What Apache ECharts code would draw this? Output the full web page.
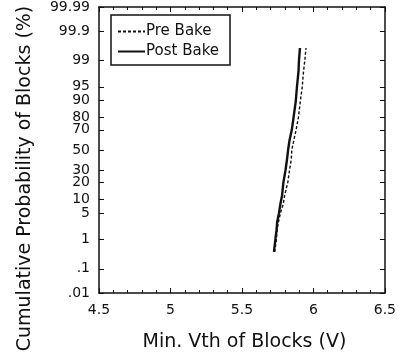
<!DOCTYPE html>
<html>
<head>
<meta charset="utf-8">
<script src="https://cdn.jsdelivr.net/npm/echarts@6/dist/echarts.min.js"></script>
<style>
  html, body { margin: 0; padding: 0; background: #fff; }
  #chart { width: 399px; height: 361px; }
</style>
</head>
<body>
<div id="chart"></div>
<script>
// Cumulative probability (%) of each plotted point
const probabilities = [0.4, 1, 2, 3, 5, 8, 12, 20, 30, 40, 50, 60, 70, 80, 90, 95, 98, 99, 99.6];
// Minimum Vth of blocks (V) at each probability
const preBake  = [5.729, 5.741, 5.747, 5.755, 5.769, 5.789, 5.799, 5.821, 5.833, 5.845, 5.849, 5.863, 5.879, 5.895, 5.909, 5.922, 5.931, 5.940, 5.948];
const postBake = [5.724, 5.734, 5.743, 5.746, 5.759, 5.769, 5.781, 5.790, 5.805, 5.815, 5.823, 5.833, 5.849, 5.861, 5.877, 5.885, 5.896, 5.899, 5.906];
// Probability-scale tick labels (%)
const probTickLabels = ['.01', '.1', '1', '5', '10', '20', '30', '50', '70', '80', '90', '95', '99', '99.9', '99.99'];

// Inverse standard normal CDF (Acklam's rational approximation)
function normInv(p) {
  const a = [-3.969683028665376e+01, 2.209460984245205e+02, -2.759285104469687e+02, 1.383577518672690e+02, -3.066479806614716e+01, 2.506628277459239e+00];
  const b = [-5.447609879822406e+01, 1.615858368580409e+02, -1.556989798598866e+02, 6.680131188771972e+01, -1.328068155288572e+01];
  const c = [-7.784894002430293e-03, -3.223964580411365e-01, -2.400758277161838e+00, -2.549732539343734e+00, 4.374664141464968e+00, 2.938163982698783e+00];
  const d = [7.784695709041462e-03, 3.224671290700398e-01, 2.445134137142996e+00, 3.754408661907416e+00];
  const pl = 0.02425, ph = 1 - pl;
  let q, r;
  if (p < pl) {
    q = Math.sqrt(-2 * Math.log(p));
    return (((((c[0]*q+c[1])*q+c[2])*q+c[3])*q+c[4])*q+c[5]) / ((((d[0]*q+d[1])*q+d[2])*q+d[3])*q+1);
  }
  if (p <= ph) {
    q = p - 0.5; r = q * q;
    return (((((a[0]*r+a[1])*r+a[2])*r+a[3])*r+a[4])*r+a[5])*q / (((((b[0]*r+b[1])*r+b[2])*r+b[3])*r+b[4])*r+1);
  }
  q = Math.sqrt(-2 * Math.log(1 - p));
  return -(((((c[0]*q+c[1])*q+c[2])*q+c[3])*q+c[4])*q+c[5]) / ((((d[0]*q+d[1])*q+d[2])*q+d[3])*q+1);
}

const toZ = pct => normInv(pct / 100);
const tickZ = probTickLabels.map(s => toZ(parseFloat(s)));
const zMin = tickZ[0], zMax = tickZ[tickZ.length - 1];
const labelFor = v => {
  let best = 0;
  tickZ.forEach((z, i) => { if (Math.abs(z - v) < Math.abs(tickZ[best] - v)) best = i; });
  return probTickLabels[best];
};

const font = 'DejaVu Sans, Liberation Sans, Arial, sans-serif';
const ink = '#111';

const xBase = {
  type: 'value', min: 4.5, max: 6.5, interval: 0.5,
  axisLine: { show: true, onZero: false, lineStyle: { color: ink, width: 1.5 } },
  axisTick: { show: true, inside: true, length: 5, lineStyle: { color: ink, width: 1 } },
  minorTick: { show: true, splitNumber: 5, length: 3, lineStyle: { color: ink, width: 1 } },
  splitLine: { show: false }
};
const yBase = {
  type: 'value', min: zMin, max: zMax,
  axisLine: { show: true, onZero: false, lineStyle: { color: ink, width: 1.5 } },
  axisTick: { show: true, inside: true, length: 5, customValues: tickZ, lineStyle: { color: ink, width: 1 } },
  splitLine: { show: false }
};

const chart = echarts.init(document.getElementById('chart'), null, { renderer: 'canvas' });
chart.setOption({
  backgroundColor: '#fff',
  animation: false,
  grid: { left: 99, right: 14, top: 4, bottom: 68, containLabel: false },
  legend: {
    left: 111, top: 15,
    orient: 'vertical',
    padding: [9, 11, 6, 6],
    itemGap: 5,
    itemWidth: 27, itemHeight: 14,
    borderColor: ink, borderWidth: 1.5,
    itemStyle: { opacity: 0 },
    textStyle: { fontFamily: font, fontSize: 15, color: ink, padding: [0, 0, 0, -4] },
    data: ['Pre Bake', 'Post Bake']
  },
  xAxis: [
    Object.assign({}, xBase, {
      position: 'bottom',
      name: 'Min. Vth of Blocks (V)', nameLocation: 'middle', nameGap: 40,
      nameTextStyle: { fontFamily: font, fontSize: 19, color: ink, padding: [0, 0, 0, 5] },
      axisLabel: { show: true, margin: 10, fontFamily: font, fontSize: 14, color: ink, formatter: v => String(v) }
    }),
    Object.assign({}, xBase, { position: 'top', axisLabel: { show: false } })
  ],
  yAxis: [
    Object.assign({}, yBase, {
      position: 'left',
      name: 'Cumulative Probability of Blocks (%)', nameLocation: 'middle', nameGap: 64, nameRotate: 90,
      nameTextStyle: { fontFamily: font, fontSize: 19, color: ink, padding: [0, 57, 0, 0] },
      axisLabel: { show: true, margin: 9, fontFamily: font, fontSize: 14, color: ink, customValues: tickZ, formatter: labelFor }
    }),
    Object.assign({}, yBase, { position: 'right', axisLabel: { show: false } })
  ],
  series: [
    {
      name: 'Pre Bake', type: 'line', xAxisIndex: 0, yAxisIndex: 0,
      symbol: 'none', smooth: false,
      lineStyle: { color: ink, width: 1.4, type: [3, 2] },
      itemStyle: { color: ink },
      data: preBake.map((v, i) => [v, toZ(probabilities[i])])
    },
    {
      name: 'Post Bake', type: 'line', xAxisIndex: 0, yAxisIndex: 0,
      symbol: 'none', smooth: false,
      lineStyle: { color: ink, width: 2.4 },
      itemStyle: { color: ink },
      data: postBake.map((v, i) => [v, toZ(probabilities[i])])
    }
  ]
});
</script>
</body>
</html>
